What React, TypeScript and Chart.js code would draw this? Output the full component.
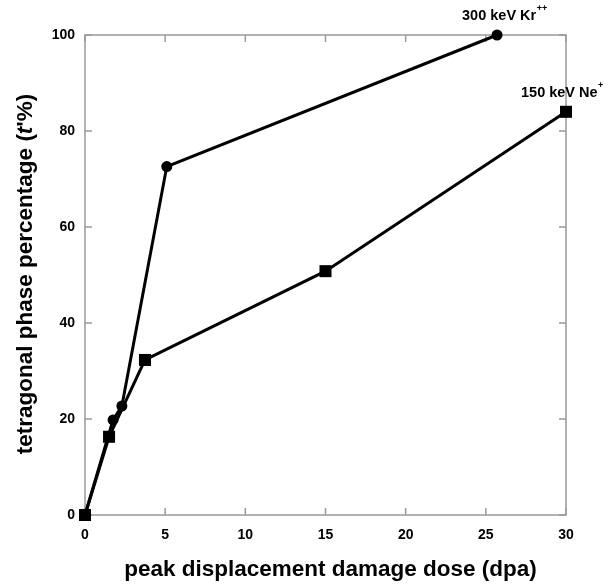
import React, { useEffect, useRef } from "react";
import { Chart, registerables } from "chart.js";

Chart.register(...registerables);

const krDose = [0, 1.75, 2.3, 5.1, 25.7];
const krPercent = [0, 19.8, 22.7, 72.6, 100];
const neDose = [0, 1.5, 3.74, 15, 30];
const nePercent = [0, 16.3, 32.3, 50.8, 84];
const xTicks = [0, 5, 10, 15, 20, 25, 30];
const yTicks = [0, 20, 40, 60, 80, 100];
const krLabel = "300 keV Kr";
const krSup = "++";
const neLabel = "150 keV Ne";
const neSup = "+";
const xTitle = "peak displacement damage dose (dpa)";
const yTitleA = "tetragonal phase percentage (";
const yTitleT = "t";
const yTitleB = "'%)";

const FONT = "'Liberation Sans', Arial, sans-serif";

const framePlugin = {
  id: "frame",
  beforeDatasetsDraw(chart: any) {
    const { ctx, chartArea: a, scales } = chart;
    const xs = scales.x, ys = scales.y;
    ctx.save();
    ctx.strokeStyle = "#9a9a9a";
    ctx.lineWidth = 1.5;
    ctx.strokeRect(a.left, a.top, a.right - a.left, a.bottom - a.top);
    const tl = 7;
    ctx.beginPath();
    xTicks.forEach((v) => {
      const px = xs.getPixelForValue(v);
      ctx.moveTo(px, a.bottom);
      ctx.lineTo(px, a.bottom - tl);
      ctx.moveTo(px, a.top);
      ctx.lineTo(px, a.top + tl);
    });
    yTicks.forEach((v) => {
      const py = ys.getPixelForValue(v);
      ctx.moveTo(a.left, py);
      ctx.lineTo(a.left + tl, py);
      ctx.moveTo(a.right, py);
      ctx.lineTo(a.right - tl, py);
    });
    ctx.stroke();
    ctx.restore();
  },
  afterDraw(chart: any) {
    const { ctx, chartArea: a, scales } = chart;
    const xs = scales.x, ys = scales.y;
    ctx.save();
    ctx.fillStyle = "#000";
    ctx.textBaseline = "middle";
    ctx.textAlign = "left";
    const drawLbl = (txt: string, sup: string, px: number, py: number, dx: number) => {
      ctx.font = `bold 14.5px ${FONT}`;
      const x0 = px + dx;
      const y0 = py - 19;
      ctx.fillText(txt, x0, y0);
      const w = ctx.measureText(txt).width;
      ctx.font = `bold 9px ${FONT}`;
      ctx.fillText(sup, x0 + w + 0.5, y0 - 7);
    };
    const kn = krDose.length - 1;
    drawLbl(krLabel, krSup, xs.getPixelForValue(krDose[kn]), ys.getPixelForValue(krPercent[kn]), -35);
    const nn = neDose.length - 1;
    drawLbl(neLabel, neSup, xs.getPixelForValue(neDose[nn]), ys.getPixelForValue(nePercent[nn]), -45);

    // axis titles
    ctx.font = `bold 22.5px ${FONT}`;
    ctx.textAlign = "center";
    ctx.textBaseline = "middle";
    ctx.fillText(xTitle, (a.left + a.right) / 2 + 5, 570);

    ctx.translate(26, (a.top + a.bottom) / 2 - 1);
    ctx.rotate(-Math.PI / 2);
    const fA = `bold 22.5px ${FONT}`;
    const fT = `bold italic 22.5px ${FONT}`;
    ctx.font = fA;
    const wA = ctx.measureText(yTitleA).width;
    const wB = ctx.measureText(yTitleB).width;
    ctx.font = fT;
    const wT = ctx.measureText(yTitleT).width;
    let x = -(wA + wT + wB) / 2;
    ctx.textAlign = "left";
    ctx.font = fA;
    ctx.fillText(yTitleA, x, 0);
    x += wA;
    ctx.font = fT;
    ctx.fillText(yTitleT, x, 0);
    x += wT;
    ctx.font = fA;
    ctx.fillText(yTitleB, x, 0);
    ctx.restore();
  },
};

export default function App() {
  const ref = useRef<HTMLCanvasElement | null>(null);
  useEffect(() => {
    if (!ref.current) return;
    const chart = new Chart(ref.current, {
      type: "scatter",
      data: {
        datasets: [
          {
            label: krLabel,
            data: krDose.map((x, i) => ({ x, y: krPercent[i] })),
            showLine: true,
            clip: false,
            borderColor: "#000",
            backgroundColor: "#000",
            borderWidth: 3,
            pointStyle: "circle",
            pointRadius: 5.5,
            pointBorderWidth: 0,
          },
          {
            label: neLabel,
            data: neDose.map((x, i) => ({ x, y: nePercent[i] })),
            showLine: true,
            clip: false,
            borderColor: "#000",
            backgroundColor: "#000",
            borderWidth: 3,
            pointStyle: "rect",
            pointRadius: 8.5,
            pointBorderWidth: 0,
          },
        ],
      },
      options: {
        animation: false,
        responsive: false,
        maintainAspectRatio: false,
        layout: { padding: { left: 0, right: 48, top: 35, bottom: 0 } },
        plugins: { legend: { display: false }, tooltip: { enabled: false } },
        scales: {
          x: {
            type: "linear",
            min: 0,
            max: 30,
            afterFit: (s: any) => { s.height = 70; },
            afterBuildTicks: (s: any) => { s.ticks = xTicks.map((v) => ({ value: v })); },
            grid: { display: false, drawTicks: false },
            border: { display: false },
            ticks: { color: "#000", font: { family: FONT, size: 14, weight: "bold" }, padding: 12 },
          },
          y: {
            type: "linear",
            min: 0,
            max: 100,
            afterFit: (s: any) => { s.width = 85; },
            afterBuildTicks: (s: any) => { s.ticks = yTicks.map((v) => ({ value: v })); },
            grid: { display: false, drawTicks: false },
            border: { display: false },
            ticks: { color: "#000", font: { family: FONT, size: 14, weight: "bold" }, padding: 10 },
          },
        },
      } as any,
      plugins: [framePlugin],
    });
    return () => chart.destroy();
  }, []);
  return (
    <div style={{ position: "fixed", left: 0, top: 0, width: 614, height: 585, background: "#fff" }}>
      <canvas ref={ref} width={614} height={585} style={{ width: 614, height: 585, display: "block" }} />
    </div>
  );
}
